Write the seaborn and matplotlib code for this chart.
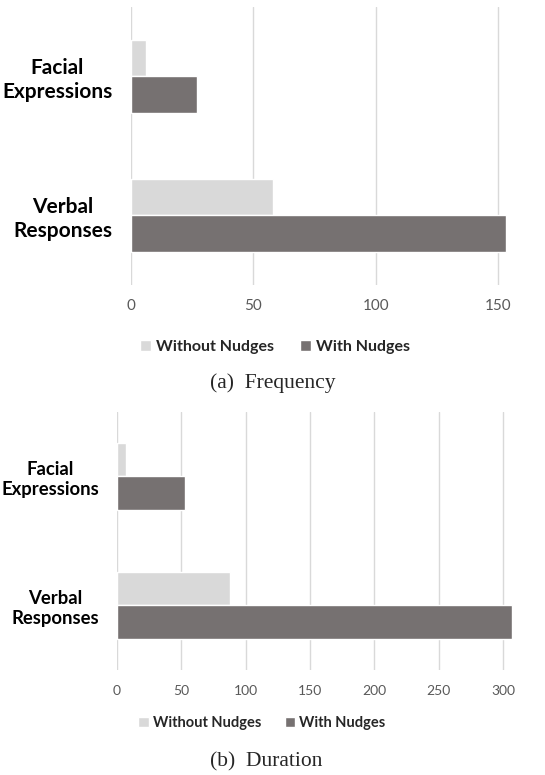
import seaborn as sns
import matplotlib.pyplot as plt
import pandas as pd

sns.set_style("white")
plt.rcParams['font.family'] = ['Lato', 'DejaVu Sans']

# data
behaviors = ["Facial\nExpressions", "Verbal\nResponses"]
conditions = ["Without Nudges", "With Nudges"]
freq_without = [6, 58]
freq_with = [27, 153]
dur_without = [7, 88]
dur_with = [53, 307]
freq_ticks = [0, 50, 100, 150]
dur_ticks = [0, 50, 100, 150, 200, 250, 300]

colors = ["#d9d9d9", "#767171"]
grid_color = "#d9d9d9"
tick_color = "#595959"


def make_df(without, with_):
    return pd.DataFrame({
        "behavior": behaviors * 2,
        "condition": [conditions[0]] * 2 + [conditions[1]] * 2,
        "value": without + with_,
    })


def draw(fig, rect, df, ticks, xmax, label_size, label_pad, tick_size, tick_pad,
         leg_xy, leg_size, caption, cap_xy):
    ax = fig.add_axes(rect)
    sns.barplot(data=df, y="behavior", x="value", hue="condition", order=behaviors,
                hue_order=conditions, palette=colors, orient="h", width=0.52,
                saturation=1, ax=ax)
    ax.set_xlim(0, xmax)
    ax.set_ylim(1.5, -0.5)
    ax.set_xticks(ticks)
    ax.set_xticklabels([str(t) for t in ticks], color=tick_color, fontsize=tick_size)
    ax.set_yticks(range(len(behaviors)))
    ax.set_yticklabels(behaviors, fontsize=label_size, fontweight="bold",
                       multialignment="center", color="#000000", linespacing=1.25)
    ax.tick_params(axis="x", length=0, pad=tick_pad)
    ax.tick_params(axis="y", length=0, pad=label_pad)
    ax.set_xlabel("")
    ax.set_ylabel("")
    ax.grid(axis="x", color=grid_color, linewidth=1)
    ax.grid(axis="y", visible=False)
    ax.set_axisbelow(True)
    for s in ax.spines.values():
        s.set_visible(False)

    handles, labels = ax.get_legend_handles_labels()
    ax.legend(handles, labels, loc="center", bbox_to_anchor=leg_xy,
              bbox_transform=fig.transFigure, ncol=2, frameon=False,
              handlelength=0.7, handleheight=0.7, handletextpad=0.3,
              columnspacing=1.6, prop={"weight": "bold", "size": leg_size})

    fig.text(cap_xy[0], cap_xy[1], caption, family="Liberation Serif", fontsize=15.5,
             ha="center", va="center")
    return ax


fig = plt.figure(figsize=(5.45, 7.75), dpi=100)

draw(fig, [0.2404, 0.6323, 0.6965, 0.3587], make_df(freq_without, freq_with),
     freq_ticks, 155, 15, 13.5, 11, 10, (0.5046, 0.5523), 11.5,
     "(a)  Frequency", (0.5, 0.5058))

draw(fig, [0.2141, 0.1355, 0.7284, 0.3333], make_df(dur_without, dur_with),
     dur_ticks, 308, 13.3, 12.5, 10, 11, (0.4807, 0.0671), 10.5,
     "(b)  Duration", (0.488, 0.0168))

plt.savefig("out.png", dpi=100)
